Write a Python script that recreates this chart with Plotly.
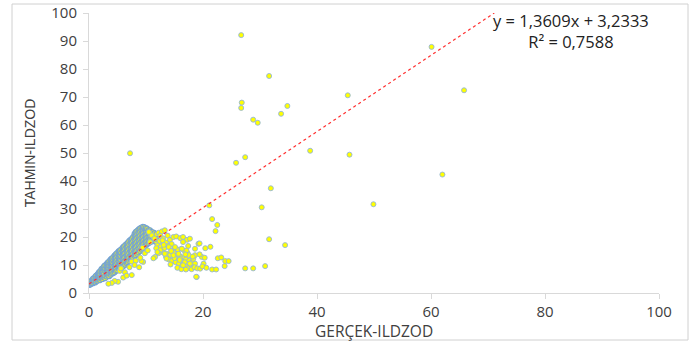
import plotly.graph_objects as go

# ---- data (GERÇEK vs TAHMIN) ----
# dense core band (estimated, column by column)
core_cols = [
    (0.1, [2.9, 3.3]),
    (0.25, [3.1, 3.7]),
    (0.45, [3.4, 4.0, 4.5]),
    (0.7, [3.5, 4.2, 4.8, 5.1]),
    (0.9, [3.9, 4.4, 5.3]),
    (1.15, [3.8, 4.7, 5.2, 6.0]),
    (1.3, [4.3, 5.6, 6.3]),
    (1.55, [4.4, 5.1, 5.9, 6.8]),
    (1.75, [4.9, 5.6, 6.5, 7.4]),
    (1.95, [4.6, 5.4, 6.2, 7.0, 7.8]),
    (2.2, [5.2, 6.0, 7.3, 8.1, 8.6]),
    (2.4, [5.0, 5.8, 6.7, 7.6, 8.9]),
    (2.65, [5.5, 6.4, 7.0, 8.2, 9.1, 9.6]),
    (2.85, [5.3, 6.1, 7.8, 8.7, 9.9]),
    (3.1, [5.9, 6.8, 7.5, 8.4, 9.4, 10.4]),
    (3.3, [6.3, 7.2, 8.1, 9.0, 10.1, 10.9]),
    (3.55, [6.0, 7.0, 7.9, 8.8, 9.7, 10.7, 11.4]),
    (3.8, [6.5, 7.5, 8.5, 9.4, 10.5, 11.5, 12.0]),
    (4.0, [6.9, 7.8, 9.0, 10.0, 11.0, 12.3]),
    (4.25, [7.1, 8.3, 9.4, 10.6, 11.8, 12.8]),
    (4.5, [7.4, 8.5, 9.8, 11.1, 12.3, 13.4]),
    (4.7, [7.9, 9.1, 10.3, 11.5, 12.7, 13.9]),
    (4.95, [8.1, 9.5, 10.8, 12.0, 13.2, 14.3]),
    (5.2, [8.6, 9.8, 11.2, 12.5, 13.8, 14.9]),
    (5.4, [8.3, 9.2, 10.5, 11.9, 13.3, 14.6, 15.2]),
    (5.65, [9.0, 10.3, 11.7, 13.0, 14.4, 15.6]),
    (5.9, [9.4, 10.8, 12.2, 13.6, 15.0, 16.2]),
    (6.1, [9.7, 11.3, 12.7, 14.1, 15.5, 16.6]),
    (6.35, [10.1, 11.5, 12.9, 14.3, 15.8, 17.1]),
    (6.6, [10.6, 12.0, 13.4, 14.9, 16.3, 17.5]),
    (6.8, [11.0, 12.5, 13.8, 15.3, 16.8, 18.0]),
    (7.05, [11.4, 12.8, 14.3, 15.8, 17.3, 18.6]),
    (7.3, [11.8, 13.3, 14.8, 16.2, 17.8, 19.0]),
    (7.5, [12.2, 13.7, 15.1, 16.6, 18.1, 19.4]),
    (7.75, [12.6, 14.1, 15.6, 17.1, 18.6, 20.0]),
    (8.0, [13.2, 14.6, 16.1, 17.6, 19.1, 20.5, 21.2]),
    (8.2, [13.5, 15.0, 16.5, 18.0, 19.5, 21.0, 21.8]),
    (8.45, [14.0, 15.4, 16.9, 18.4, 19.8, 21.2, 22.2]),
    (8.7, [14.5, 15.9, 17.4, 18.9, 20.3, 21.7, 22.7]),
    (8.95, [15.0, 16.4, 17.8, 19.3, 20.6, 22.0, 23.1]),
    (9.2, [15.5, 16.9, 18.3, 19.7, 21.1, 22.4, 23.4]),
    (9.45, [16.0, 17.5, 18.8, 20.2, 21.5, 22.8, 23.6]),
    (9.7, [16.5, 17.8, 19.1, 20.5, 21.8, 23.0, 23.5]),
    (9.95, [17.0, 18.3, 19.6, 20.9, 22.1, 23.2]),
    (10.2, [17.4, 18.7, 19.9, 21.2, 22.4, 23.0]),
    (10.45, [17.8, 19.0, 20.2, 21.4, 22.5]),
    (10.7, [18.1, 19.3, 20.5, 21.6, 22.4]),
    (10.95, [18.4, 19.6, 20.8, 21.8]),
    (11.2, [18.6, 19.8, 20.9, 21.7]),
    (11.5, [18.5, 19.7, 20.7, 21.4]),
    (11.8, [18.2, 19.4, 20.3, 21.0]),
]

# scattered points around the core and the descending branch
branch_x = [12.2, 12.5, 12.8, 13.3, 13.0, 12.4, 13.5, 13.8, 14.2, 14.8, 15.3, 16.0, 16.5, 17.2, 17.7,
            12.0, 12.6, 13.2, 13.9, 14.5, 15.0, 15.6, 16.2, 16.8, 17.3, 13.0, 13.6, 14.2, 14.8, 15.4,
            16.0, 16.6, 17.0, 17.6, 18.1, 18.6, 14.0, 14.6, 15.2, 15.8, 16.4, 17.0, 17.5, 18.0, 18.5,
            19.0, 15.5, 16.2, 17.0, 17.8, 18.3, 16.8, 15.0, 13.5, 12.5, 11.8, 11.6, 17.5, 18.6, 19.8,
            19.2, 20.1, 16.5, 17.1, 18.6, 16.0, 14.8, 13.3, 13.6, 12.5, 10.7, 11.0, 16.5, 15.1, 14.0,
            16.3, 19.5, 17.7, 18.9, 11.3, 9.5, 9.2, 8.8, 7.5, 7.1, 6.3, 7.5, 6.0, 5.1, 5.4,
            5.6, 9.4, 9.8, 4.5, 4.0, 3.4, 6.6, 8.2, 10.3, 12.2, 13.1, 14.4, 15.7, 16.9, 17.4,
            18.2, 15.9, 14.3, 12.9, 19.4, 12.0, 11.5, 10.5, 9.0, 8.0]
branch_y = [21.5, 20.5, 22.0, 22.4, 19.5, 18.5, 18.0, 20.5, 19.0, 20.0, 20.2, 19.6, 20.0, 19.0, 19.4,
            17.0, 16.5, 16.0, 16.8, 17.5, 16.0, 15.5, 15.8, 15.0, 14.2, 14.5, 14.0, 13.5, 14.5, 13.2,
            13.0, 12.5, 12.0, 11.5, 11.0, 10.5, 12.0, 11.5, 11.0, 10.5, 10.0, 9.5, 9.0, 8.5, 9.2,
            8.8, 9.0, 8.5, 8.4, 10.2, 12.2, 11.0, 12.5, 13.0, 15.0, 16.0, 12.9, 13.5, 15.8, 12.9,
            17.6, 10.5, 18.2, 15.2, 13.5, 12.3, 13.5, 14.0, 12.3, 15.3, 18.2, 20.6, 9.9, 16.4, 16.4,
            15.8, 8.7, 10.5, 5.7, 12.4, 11.1, 11.4, 9.2, 11.2, 9.2, 7.4, 6.4, 5.5, 4.0, 7.9,
            8.8, 16.2, 14.2, 4.3, 3.6, 3.3, 6.2, 11.5, 15.2, 14.2, 17.2, 15.0, 14.0, 13.8, 16.8,
            13.0, 11.8, 10.2, 18.8, 13.8, 14.6, 19.5, 21.8, 12.6, 10.0]

# outliers
out_x = [60.1, 45.4, 65.8, 45.7, 62.0, 49.9, 26.7, 31.6, 26.8, 26.7, 34.8, 33.7, 28.8, 29.6, 7.2,
         38.8, 25.8, 27.4, 31.9, 30.3, 21.1, 21.6, 22.5, 22.2, 31.6, 34.4, 30.9, 27.4, 28.8, 21.3,
         20.4, 19.4, 22.6, 23.2, 23.9, 24.5, 23.8, 21.6, 22.3, 20.3, 18.8, 19.9, 20.6]
out_y = [87.9, 70.6, 72.4, 49.4, 42.3, 31.7, 92.1, 77.5, 68.0, 66.1, 66.8, 64.0, 61.9, 60.8, 49.9,
         50.8, 46.5, 48.5, 37.4, 30.6, 31.3, 26.4, 24.3, 22.1, 19.2, 17.1, 9.6, 8.8, 8.8, 16.5,
         16.0, 17.7, 12.4, 12.7, 11.4, 11.4, 9.6, 8.4, 8.4, 12.6, 5.8, 9.5, 9.0]

# linear trendline coefficients shown in the chart
slope = 1.3609
intercept = 3.2333
r2 = 0.7588
x_ticks = [0, 20, 40, 60, 80, 100]
y_ticks = [0, 10, 20, 30, 40, 50, 60, 70, 80, 90, 100]
x_title = "GERÇEK-ILDZOD"
y_title = "TAHMIN-ILDZOD"

core_x = [c[0] for c in core_cols for _ in c[1]]
core_y = [v for c in core_cols for v in c[1]]

fig = go.Figure()
# dense part: overlapping borders dominate
fig.add_trace(go.Scatter(
    x=core_x, y=core_y, mode="markers",
    marker=dict(size=5, color="#FFFF00", line=dict(color="#74A3D6", width=1.2)),
    showlegend=False, hoverinfo="skip"))
# sparser part of the same series
fig.add_trace(go.Scatter(
    x=branch_x + out_x, y=branch_y + out_y, mode="markers",
    marker=dict(size=5, color="#FFFF00", line=dict(color="#93B6DA", width=0.9)),
    showlegend=False, hoverinfo="skip"))

x_end = (100 - intercept) / slope
fig.add_trace(go.Scatter(
    x=[0, x_end], y=[intercept, intercept + slope * x_end], mode="lines",
    line=dict(color="#FF3030", width=1.2, dash="dot"),
    showlegend=False, hoverinfo="skip"))

eq_text = ("y = " + str(slope).replace(".", ",") + "x + " + str(intercept).replace(".", ",")
           + "<br>R² = " + str(r2).replace(".", ","))
fig.add_annotation(
    x=x_end, y=1, xref="x", yref="paper", xanchor="left", yanchor="top", align="center",
    text=eq_text, showarrow=False, xshift=-3, yshift=6,
    font=dict(family="Open Sans, Liberation Sans", size=16.5, color="#222222"))

# x-axis title placed under the tick labels
fig.add_annotation(
    x=0.5, y=0, xref="paper", yref="paper", xanchor="center", yanchor="middle",
    text=x_title, showarrow=False, yshift=-38,
    font=dict(family="Open Sans, Liberation Sans", size=15.5, color="#404040"))

axis_common = dict(
    showgrid=False, zeroline=False, showline=True, linecolor="#D9D9D9", linewidth=1,
    ticks="outside", ticklen=5, tickcolor="#D9D9D9", automargin=False,
    tickfont=dict(family="Open Sans, Liberation Sans", size=15, color="#404040"),
)
fig.update_xaxes(range=[0, 100], tickvals=x_ticks, **axis_common)
fig.update_yaxes(range=[0, 100], tickvals=y_ticks, ticklabelstandoff=3, **axis_common,
                 title=dict(text=y_title, standoff=12,
                            font=dict(family="Liberation Sans Narrow, Liberation Sans", size=14, color="#404040")))

fig.add_shape(type="rect", xref="paper", yref="paper",
              x0=-77 / 570, x1=1 + 29 / 570, y0=-47 / 280, y1=1 + 9 / 280,
              line=dict(color="#D0D0D0", width=1), fillcolor="rgba(0,0,0,0)", layer="below")

fig.update_layout(
    width=694, height=343,
    margin=dict(l=89, r=35, t=13, b=50),
    paper_bgcolor="white", plot_bgcolor="white",
)

# remove the page's default body margin so the figure sits at the window's corner
fig.write_html("out.html", config={"displayModeBar": False},
               post_script="document.body.style.margin='0';")
